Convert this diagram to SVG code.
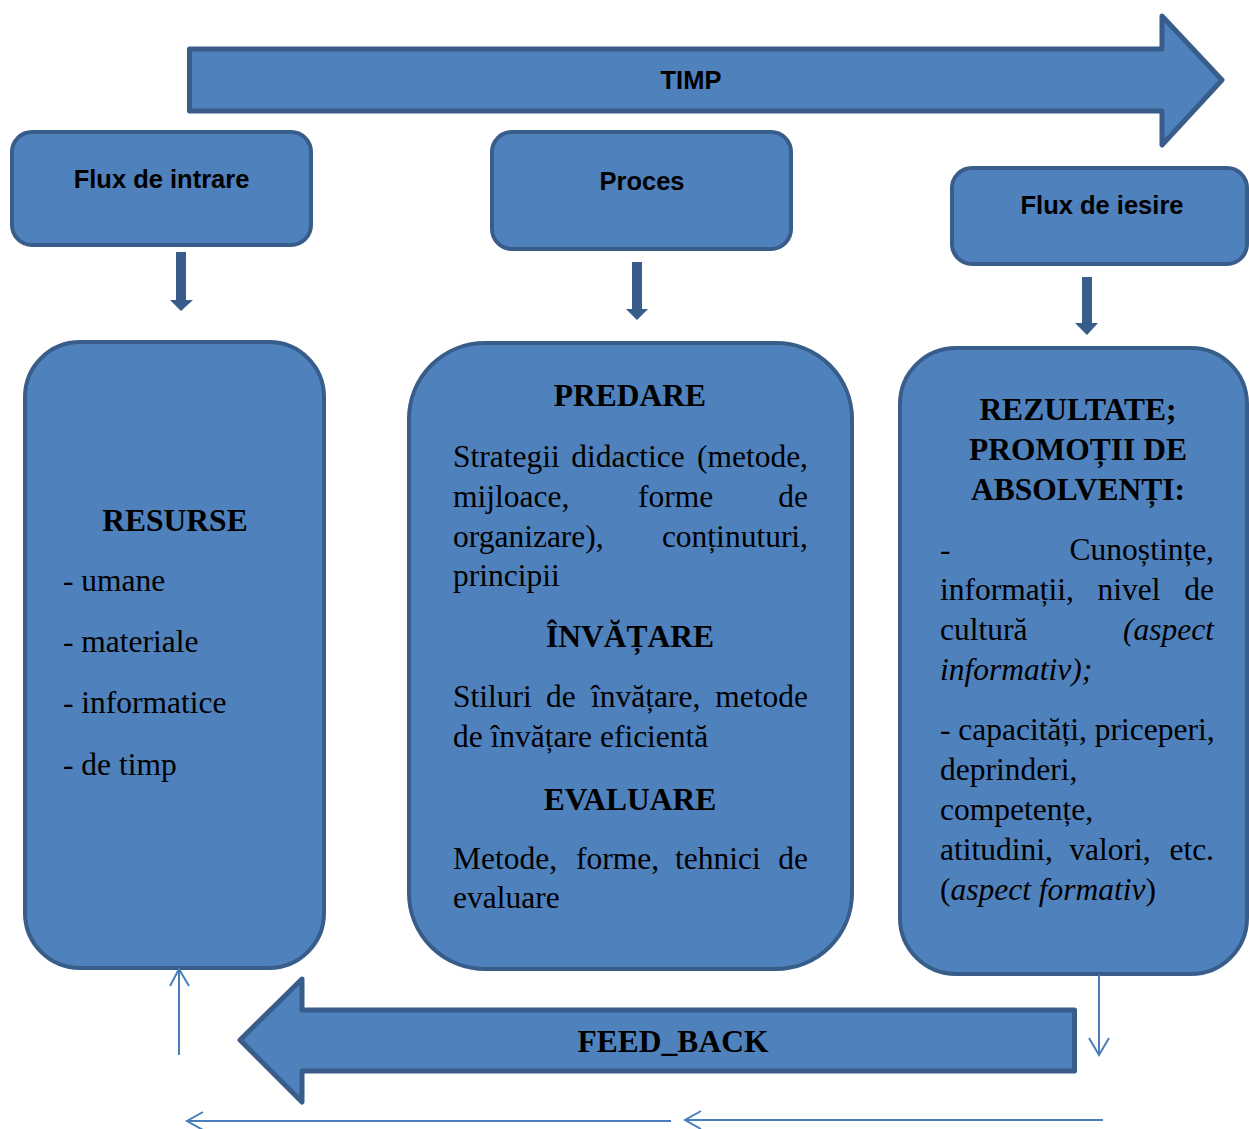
<svg xmlns="http://www.w3.org/2000/svg" width="1249" height="1129" viewBox="0 0 1249 1129">
<defs>
<style>
.shape{fill:#4F81BD;stroke:#385D8A;stroke-linejoin:round}
.lbl{font-family:"Liberation Sans",Arial,sans-serif;font-weight:bold;font-size:25.5px;fill:#000;text-anchor:middle}
.hd{font-family:"Liberation Serif","Times New Roman",serif;font-weight:bold;font-size:31.5px;fill:#000;text-anchor:middle}
.tx{font-family:"Liberation Serif","Times New Roman",serif;font-size:31.5px;fill:#000}
.it{font-style:italic}
.e{text-anchor:end}
.m{text-anchor:middle}
.dk{fill:#385D8A}
.thin{fill:none;stroke:#4A7EBB;stroke-width:2}
</style>
</defs>
<rect width="1249" height="1129" fill="#fff"/>

<g id="timp">
<path class="shape" stroke-width="5" d="M189.5,49 L1162,49 L1162,16 L1222,80 L1162,145 L1162,111 L189.5,111 Z"/>
<text class="lbl" x="691" y="89">TIMP</text>
</g>

<g id="flux-intrare">
<rect class="shape" stroke-width="4" x="12" y="132" width="299" height="113" rx="20"/>
<text class="lbl" x="161.5" y="188">Flux de intrare</text>
</g>

<g id="proces">
<rect class="shape" stroke-width="4" x="492" y="132" width="299" height="117" rx="20"/>
<text class="lbl" x="642" y="190">Proces</text>
</g>

<g id="flux-iesire">
<rect class="shape" stroke-width="4" x="952" y="168" width="295" height="96" rx="20"/>
<text class="lbl" x="1102" y="214">Flux de iesire</text>
</g>

<g id="resurse">
<rect class="shape" stroke-width="4" x="25" y="342" width="299" height="626" rx="55"/>
<text class="hd" x="175" y="531">RESURSE</text>
<text class="tx" x="63" y="591">- umane</text>
<text class="tx" x="63" y="652">- materiale</text>
<text class="tx" x="63" y="713">- informatice</text>
<text class="tx" x="63" y="775">- de timp</text>
</g>

<g id="proces-detaliu">
<rect class="shape" stroke-width="4" x="409" y="343" width="443" height="626" rx="76"/>
<text class="hd" x="630" y="406">PREDARE</text>
<text class="tx" x="453" y="467">Strategii</text>
<text class="tx m" x="628" y="467">didactice</text>
<text class="tx e" x="808" y="467">(metode,</text>
<text class="tx" x="453" y="507">mijloace,</text>
<text class="tx" x="638" y="507">forme</text>
<text class="tx e" x="808" y="507">de</text>
<text class="tx" x="453" y="547">organizare),</text>
<text class="tx e" x="808" y="547">conținuturi,</text>
<text class="tx" x="453" y="586">principii</text>
<text class="hd" x="630" y="647">ÎNVĂȚARE</text>
<text class="tx" x="453" y="707">Stiluri</text>
<text class="tx" x="546" y="707">de</text>
<text class="tx" x="591" y="707">învățare,</text>
<text class="tx e" x="808" y="707">metode</text>
<text class="tx" x="453" y="747">de învățare eficientă</text>
<text class="hd" x="630" y="810">EVALUARE</text>
<text class="tx" x="453" y="869">Metode,</text>
<text class="tx" x="576" y="869">forme,</text>
<text class="tx" x="675" y="869">tehnici</text>
<text class="tx e" x="808" y="869">de</text>
<text class="tx" x="453" y="908">evaluare</text>
</g>

<g id="rezultate">
<rect class="shape" stroke-width="4" x="900" y="348" width="347" height="626" rx="56"/>
<text class="hd" x="1078" y="420">REZULTATE;</text>
<text class="hd" x="1078" y="460">PROMOȚII DE</text>
<text class="hd" x="1078" y="500">ABSOLVENȚI:</text>
<text class="tx" x="940" y="560">-</text>
<text class="tx e" x="1214" y="560">Cunoștințe,</text>
<text class="tx" x="940" y="600">informații,</text>
<text class="tx m" x="1129" y="600">nivel</text>
<text class="tx e" x="1214" y="600">de</text>
<text class="tx" x="940" y="640">cultură</text>
<text class="tx it e" x="1214" y="640">(aspect</text>
<text class="tx it" x="940" y="680">informativ);</text>
<text class="tx" x="940" y="740">- capacități, priceperi,</text>
<text class="tx" x="940" y="780">deprinderi,</text>
<text class="tx" x="940" y="820">competențe,</text>
<text class="tx" x="940" y="860">atitudini,</text>
<text class="tx m" x="1110" y="860">valori,</text>
<text class="tx e" x="1214" y="860">etc.</text>
<text class="tx" x="940" y="900">(<tspan class="it">aspect formativ</tspan>)</text>
</g>

<g id="feedback">
<path class="shape" stroke-width="5" d="M1074.5,1010 L302,1010 L302,979 L240,1040 L302,1102 L302,1071 L1074.5,1071 Z"/>
<text class="hd" x="673" y="1052">FEED_BACK</text>
</g>

<g id="connectors">
<path class="dk" d="M176,252 H186 V300 H193 L181,311 L170,300 H176 Z"/>
<path class="dk" d="M632,262 H642 V309 H648 L637,320 L626,309 H632 Z"/>
<path class="dk" d="M1082,277 H1092 V323 H1098 L1087,335 L1075,323 H1082 Z"/>
<path class="thin" d="M179,1055 V969 M170,986 L179,969 L189,986"/>
<path class="thin" d="M1099,975 V1054 M1089,1038 L1099,1055 L1109,1038"/>
<path class="thin" d="M671,1121 H187 M203,1112 L187,1121 L203,1130"/>
<path class="thin" d="M1103,1120 H685 M701,1111 L685,1120 L701,1129"/>
</g>
</svg>
